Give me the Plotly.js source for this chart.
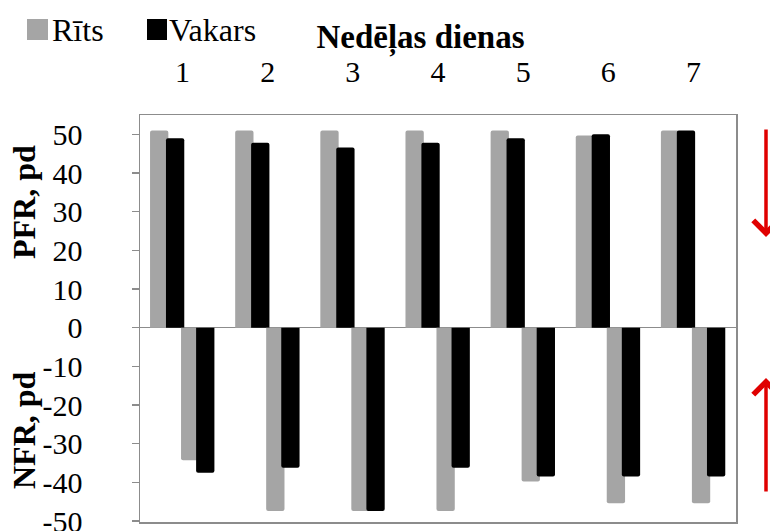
<!DOCTYPE html>
<html>
<head>
<meta charset="utf-8">
<script src="https://cdn.plot.ly/plotly-3.0.1.min.js"></script>
<style>
html,body{margin:0;padding:0;background:#fff;overflow:hidden;}
#chart{width:770px;height:531px;}
</style>
</head>
<body>
<div id="chart"></div>
<script>
const days = ['1','2','3','4','5','6','7'];
const pfrRits = [51, 51, 51, 51, 51, 49.7, 51];
const pfrVakars = [49, 47.8, 46.6, 47.8, 49, 50, 51];
const nfrRits = [-34.3, -47.4, -47.4, -47.4, -39.8, -45.4, -45.4];
const nfrVakars = [-37.5, -36.2, -47.4, -36.2, -38.5, -38.5, -38.5];
const seriesNames = ['Rīts', 'Vakars'];
const yTickVals = [-50, -40, -30, -20, -10, 0, 10, 20, 30, 40, 50];
const yTickText = ['-50', '-40', '-30', '-20', '-10', '0', '10', '20', '30', '40', '50'];

const GRAY = '#a5a5a5';
const BLACK = '#000000';
const FONT = 'Times New Roman';
const W = 0.215;
const PADR = '\u00a0\u00a0';

function bar(y, color, offset, name) {
  return {
    type: 'bar', x: days, y: y, name: name, showlegend: false,
    width: W, offset: offset,
    marker: {color: color, line: {width: 0}, cornerradius: 2},
    hoverinfo: 'x+y'
  };
}

const data = [
  bar(pfrRits, GRAY, -0.382, seriesNames[0]),
  bar(pfrVakars, BLACK, -0.195, seriesNames[1]),
  bar(nfrRits, GRAY, -0.018, seriesNames[0]),
  bar(nfrVakars, BLACK, 0.159, seriesNames[1])
];

// plot area in pixels: x 140..736, y 115..522
const L = 140, R = 736, T = 115, B = 522;
const px = v => (v - L) / (R - L);
const py = v => (B - v) / (B - T);

const layout = {
  width: 770, height: 531,
  margin: {l: L, r: 770 - R, t: T, b: 531 - B, pad: 0},
  paper_bgcolor: '#ffffff', plot_bgcolor: '#ffffff',
  barmode: 'overlay',
  showlegend: false,
  title: {
    text: '<b>Nedēļas dienas</b>',
    font: {family: FONT, size: 33, color: '#000'},
    xref: 'paper', x: px(420.5), xanchor: 'center',
    yref: 'container', y: (531 - 36) / 531, yanchor: 'middle'
  },
  xaxis: {
    type: 'category', side: 'top', range: [-0.5, 6.5],
    showline: true, mirror: true, linecolor: '#8c8c8c', linewidth: 1.5,
    ticks: '', showgrid: false, zeroline: false,
    tickfont: {family: FONT, size: 30, color: '#000'},
    ticklabelstandoff: 20, fixedrange: true
  },
  yaxis: {
    range: [-50.25, 55], tickvals: yTickVals, ticktext: yTickText.map(t => t + PADR),
    showline: true, mirror: true, linecolor: '#8c8c8c', linewidth: 1.5,
    ticks: 'outside', ticklen: 7, tickcolor: '#8c8c8c', tickwidth: 1.5,
    showgrid: false, zeroline: true, zerolinecolor: '#8c8c8c', zerolinewidth: 1.5,
    tickfont: {family: FONT, size: 30, color: '#000'},
    ticklabelstandoff: 28, ticklabeloverflow: 'allow', fixedrange: true
  },
  shapes: [
    {type: 'rect', xref: 'paper', yref: 'paper', x0: px(27), x1: px(48), y0: py(40), y1: py(19),
     fillcolor: GRAY, line: {width: 0}},
    {type: 'rect', xref: 'paper', yref: 'paper', x0: px(147), x1: px(167), y0: py(40), y1: py(19),
     fillcolor: BLACK, line: {width: 0}}
  ],
  annotations: [
    {xref: 'paper', yref: 'paper', x: px(50), y: py(30), xanchor: 'left', yanchor: 'middle',
     text: seriesNames[0], showarrow: false, font: {family: FONT, size: 32, color: '#000'}},
    {xref: 'paper', yref: 'paper', x: px(167), y: py(30), xanchor: 'left', yanchor: 'middle',
     text: seriesNames[1], showarrow: false, font: {family: FONT, size: 32, color: '#000'}},
    {xref: 'paper', yref: 'paper', x: px(24), y: py(202), xanchor: 'center', yanchor: 'middle',
     text: '<b>PFR, pd</b>', textangle: -90, showarrow: false, font: {family: FONT, size: 32, color: '#000'}},
    {xref: 'paper', yref: 'paper', x: px(24), y: py(430), xanchor: 'center', yanchor: 'middle',
     text: '<b>NFR, pd</b>', textangle: -90, showarrow: false, font: {family: FONT, size: 32, color: '#000'}},
    {xref: 'paper', yref: 'paper', x: px(766), y: py(237), text: '', showarrow: true,
     axref: 'pixel', ayref: 'pixel', ax: 0, ay: -109,
     arrowhead: 4, arrowsize: 1.4, arrowwidth: 3.5, arrowcolor: '#e00000'},
    {xref: 'paper', yref: 'paper', x: px(766), y: py(378), text: '', showarrow: true,
     axref: 'pixel', ayref: 'pixel', ax: 0, ay: 115,
     arrowhead: 4, arrowsize: 1.4, arrowwidth: 3.5, arrowcolor: '#e00000'}
  ]
};

Plotly.newPlot('chart', data, layout, {displayModeBar: false, staticPlot: true});
</script>
</body>
</html>
